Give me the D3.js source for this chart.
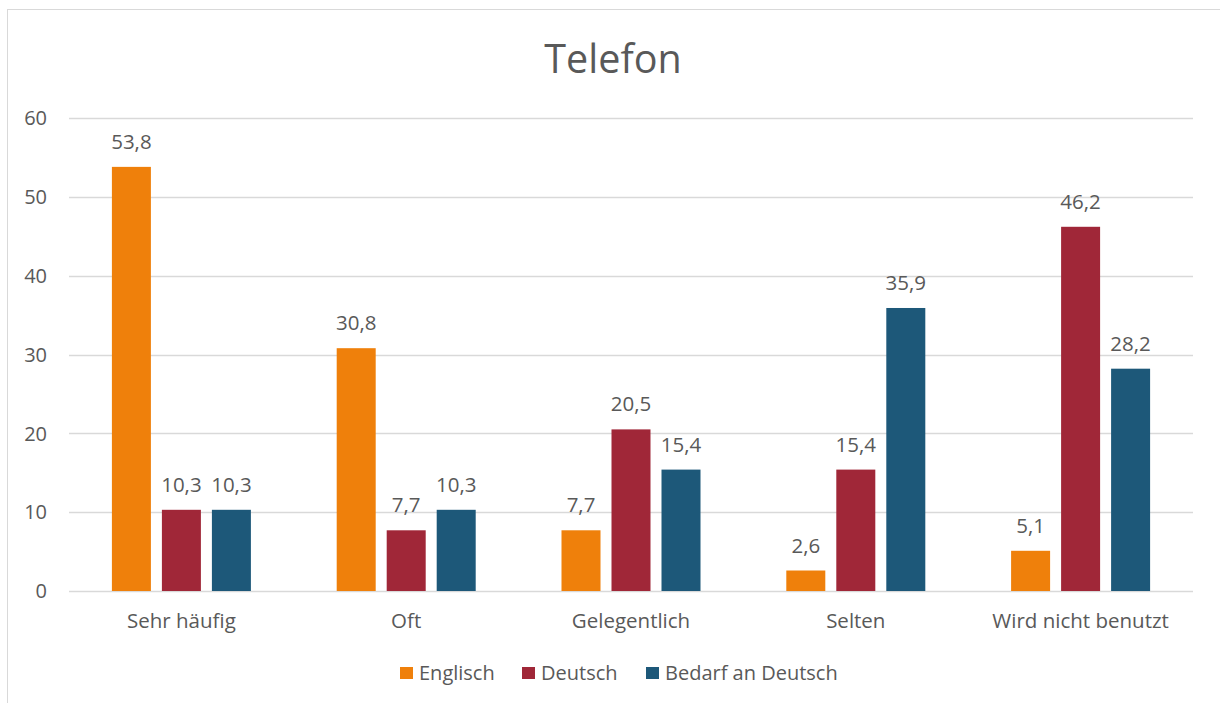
<!DOCTYPE html>
<html>
<head>
<meta charset="utf-8">
<script src="https://cdn.jsdelivr.net/npm/d3@7"></script>
<style>
  body { margin: 0; background: #fff; }
  svg text { font-family: "Open Sans", sans-serif; fill: #595959; }
</style>
</head>
<body>
<script>
const categories = ["Sehr häufig", "Oft", "Gelegentlich", "Selten", "Wird nicht benutzt"];
const seriesNames = ["Englisch", "Deutsch", "Bedarf an Deutsch"];
const englisch = [53.8, 30.8, 7.7, 2.6, 5.1];
const deutsch = [10.3, 7.7, 20.5, 15.4, 46.2];
const bedarf = [10.3, 10.3, 15.4, 35.9, 28.2];
const yTicks = [0, 10, 20, 30, 40, 50, 60];
const colors = ["#EF800B", "#A02738", "#1D5879"];

const width = 1220, height = 703;
const margin = { top: 118, right: 27, bottom: 112, left: 69 };

const svg = d3.select("body").append("svg")
  .attr("width", width)
  .attr("height", height);

// chart border (clipped on right/bottom like the reference)
svg.append("rect")
  .attr("x", 7.5).attr("y", 9.5)
  .attr("width", 1230).attr("height", 720)
  .attr("fill", "none")
  .attr("stroke", "#d9d9d9")
  .attr("stroke-width", 1);

svg.append("text")
  .attr("x", 613).attr("y", 73)
  .attr("text-anchor", "middle")
  .attr("font-size", 39.5)
  .text("Telefon");

const x = d3.scaleBand()
  .domain(categories)
  .range([margin.left, width - margin.right]);

const y = d3.scaleLinear()
  .domain([0, 60])
  .range([height - margin.bottom, margin.top]);

// gridlines
svg.append("g")
  .selectAll("line")
  .data(yTicks)
  .join("line")
  .attr("x1", margin.left)
  .attr("x2", width - margin.right)
  .attr("y1", d => Math.round(y(d)) + 0.5)
  .attr("y2", d => Math.round(y(d)) + 0.5)
  .attr("stroke", "#d9d9d9")
  .attr("stroke-width", 1.3);

// y tick labels
svg.append("g")
  .selectAll("text")
  .data(yTicks)
  .join("text")
  .attr("x", 47)
  .attr("y", d => y(d))
  .attr("dy", "0.36em")
  .attr("text-anchor", "end")
  .attr("font-size", 20)
  .text(d => d);

// x labels
svg.append("g")
  .selectAll("text")
  .data(categories)
  .join("text")
  .attr("x", d => x(d) + x.bandwidth() / 2)
  .attr("y", 628)
  .attr("text-anchor", "middle")
  .attr("font-size", 20.5)
  .text(d => d);

const series = [englisch, deutsch, bedarf];
const xs = d3.scaleBand()
  .domain(d3.range(series.length))
  .range([-75, 75])
  .paddingInner(0.22)
  .paddingOuter(0.11);

const fmt = v => String(v).replace(".", ",");

series.forEach((vals, si) => {
  const g = svg.append("g");
  g.selectAll("rect")
    .data(vals)
    .join("rect")
    .attr("x", (d, i) => x(categories[i]) + x.bandwidth() / 2 + xs(si))
    .attr("y", d => y(d))
    .attr("width", xs.bandwidth())
    .attr("height", d => y(0) - y(d))
    .attr("fill", colors[si]);
  g.selectAll("text")
    .data(vals)
    .join("text")
    .attr("x", (d, i) => x(categories[i]) + x.bandwidth() / 2 + xs(si) + xs.bandwidth() / 2)
    .attr("y", d => y(d) - 18)
    .attr("text-anchor", "middle")
    .attr("font-size", 20.5)
    .text(d => fmt(d));
});

// legend
const legendX = [400, 522, 646];
const legend = svg.append("g");
seriesNames.forEach((name, i) => {
  legend.append("rect")
    .attr("x", legendX[i]).attr("y", 667)
    .attr("width", 13).attr("height", 12)
    .attr("fill", colors[i]);
  legend.append("text")
    .attr("x", legendX[i] + 19).attr("y", 680)
    .attr("font-size", 20)
    .text(name);
});
</script>
</body>
</html>
